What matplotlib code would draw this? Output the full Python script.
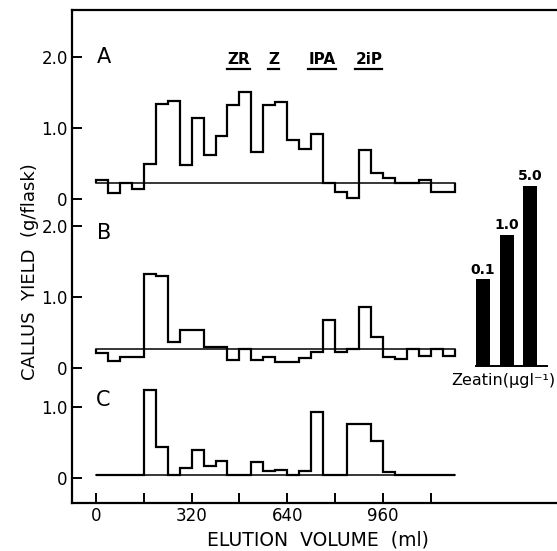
import numpy as np
import matplotlib
matplotlib.use('Agg')
import matplotlib.pyplot as plt

# fractions of 40 ml, 0 - 1200 ml
edges = np.arange(0, 1201, 40)

panel_a = [0.27, 0.08, 0.23, 0.14, 0.49, 1.34, 1.385, 0.48, 1.145, 0.62,
           0.89, 1.32, 1.50, 0.66, 1.32, 1.37, 0.83, 0.70, 0.915, 0.23,
           0.10, 0.01, 0.69, 0.36, 0.30, 0.23, 0.23, 0.27, 0.10, 0.10]
panel_b = [0.21, 0.10, 0.16, 0.16, 1.33, 1.29, 0.36, 0.535, 0.535, 0.29,
           0.29, 0.12, 0.27, 0.12, 0.16, 0.09, 0.09, 0.14, 0.23, 0.68,
           0.23, 0.27, 0.86, 0.44, 0.16, 0.13, 0.27, 0.17, 0.27, 0.17]
panel_c = [0.04, 0.04, 0.04, 0.04, 1.24, 0.43, 0.04, 0.14, 0.40, 0.17,
           0.24, 0.04, 0.04, 0.22, 0.10, 0.11, 0.04, 0.10, 0.93, 0.04,
           0.04, 0.76, 0.76, 0.525, 0.09, 0.04, 0.04, 0.04, 0.04, 0.04]
control = {'A': 0.23, 'B': 0.27, 'C': 0.04}

# panel zero positions on the shared axis
offsets = {'A': 3.93, 'B': 1.549, 'C': 0.0}

markers = ['ZR', 'Z', 'IPA', '2iP']
marker_pos = [478, 595, 756, 913]

zeatin_labels = ['0.1', '1.0', '5.0']
zeatin_yield = [1.22, 1.85, 2.54]

W, H = 557, 551


def main():
    fig = plt.figure(figsize=(W / 100, H / 100), dpi=100)
    ax = fig.add_axes([72 / W, 48 / H, 485 / W, 493 / H])
    ax.set_facecolor('none')

    data = {'A': panel_a, 'B': panel_b, 'C': panel_c}
    for key in ['A', 'B', 'C']:
        off = offsets[key]
        vals = np.array(data[key]) + off
        base = control[key] + off
        ax.plot([edges[0], edges[-1]], [base, base], color='black', lw=1.1)
        ax.stairs(vals, edges, baseline=base, color='black', lw=1.6)

    ax.set_xlim(-80, 1542)
    ax.set_ylim(-0.352, 6.592)

    ax.spines['right'].set_visible(False)
    for s in ['left', 'top', 'bottom']:
        ax.spines[s].set_linewidth(1.6)

    ax.set_xticks(np.arange(0, 1121, 160))
    ax.set_xticklabels(['0', '', '320', '', '640', '', '960', ''])
    yt, yl = [], []
    for key, labs in [('C', ['0', '1.0']), ('B', ['0', '1.0', '2.0']),
                      ('A', ['0', '1.0', '2.0'])]:
        for i, lab in enumerate(labs):
            yt.append(offsets[key] + i)
            yl.append(lab)
    ax.set_yticks(yt)
    ax.set_yticklabels(yl)
    ax.tick_params(direction='in', length=7, width=1.4, labelsize=12, pad=3)

    # panel letters
    ax.text(3, offsets['A'] + 2.0, 'A', fontsize=15, va='center', ha='left')
    ax.text(3, offsets['B'] + 1.9, 'B', fontsize=15, va='center', ha='left')
    ax.text(0, offsets['C'] + 1.10, 'C', fontsize=15, va='center', ha='left')

    # standards elution positions
    ym = offsets['A'] + 1.96
    txts = []
    for lab, xm in zip(markers, marker_pos):
        txts.append(ax.text(xm, ym, lab, fontsize=11, fontweight='bold',
                            ha='center', va='center'))
    fig.canvas.draw()
    r = fig.canvas.get_renderer()
    for t in txts:
        bb = t.get_window_extent(r)
        y = bb.y0 - 2
        fig.add_artist(plt.Line2D([bb.x0 / W, bb.x1 / W], [y / H, y / H],
                                  color='black', lw=1.6))

    # zeatin standard bars
    axb = fig.add_axes([471.1 / W, 185 / H, 80.75 / W, 213 / H])
    axb.set_facecolor('none')
    xb = np.arange(len(zeatin_yield))
    axb.bar(xb, zeatin_yield, width=0.59, color='black')
    for x, v, lab in zip(xb, zeatin_yield, zeatin_labels):
        axb.annotate(lab, (x, v), xytext=(0, 2), textcoords='offset points',
                     ha='center', va='bottom', fontsize=10, fontweight='bold')
    axb.set_xlim(-0.5, 2.9)
    axb.set_ylim(0, 3)
    for s in ['left', 'right', 'top']:
        axb.spines[s].set_visible(False)
    axb.spines['bottom'].set_bounds(-0.3, 2.7)
    axb.spines['bottom'].set_linewidth(1.4)
    axb.set_xticks([])
    axb.set_yticks([])
    fig.text(503 / W, 1 - 381 / H, 'Zeatin(μgl⁻¹)', fontsize=11.5,
             ha='center', va='center')

    fig.text(30 / W, 1 - 272 / H, 'CALLUS  YIELD  (g/flask)', fontsize=13,
             rotation=90, ha='center', va='center')
    fig.text(318 / W, 1 - 540 / H, 'ELUTION  VOLUME  (ml)', fontsize=13.5,
             ha='center', va='center')

    fig.savefig('out.png', dpi=100)


if __name__ == "__main__":
    main()
